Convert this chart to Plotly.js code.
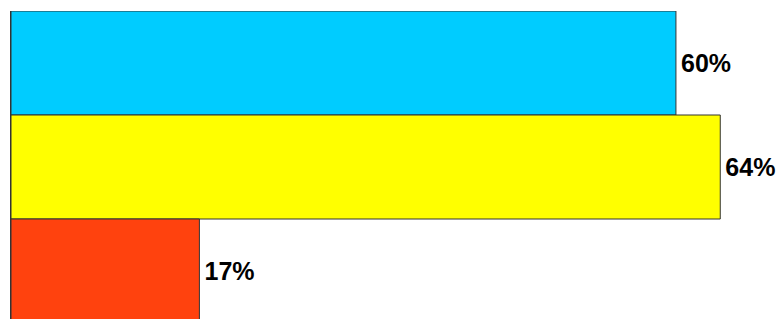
<!DOCTYPE html>
<html>
<head>
<meta charset="utf-8">
<script src="https://cdn.plot.ly/plotly-3.0.1.min.js"></script>
<style>html,body{margin:0;padding:0;background:#fff}</style>
</head>
<body>
<div id="chart" style="width:779px;height:319px"></div>
<script>
var categories = ["A", "B", "C"];
var values = [60, 64, 17];
var labels = ["60%", "64%", "17%"];
var colors = ["#00CCFF", "#FFFF00", "#FF420E"];

var trace = {
  type: "bar",
  orientation: "h",
  y: categories,
  x: values,
  text: labels,
  texttemplate: "\u200A%{text}",
  textposition: "outside",
  cliponaxis: true,
  constraintext: "none",
  textfont: {family: "Liberation Sans, Arial, sans-serif", size: 25, color: "#000", weight: "bold"},
  marker: {color: colors, line: {color: "#333333", width: 1}},
  hoverinfo: "none"
};

var layout = {
  width: 779,
  height: 319,
  margin: {l: 11, r: 0, t: 11, b: 0},
  paper_bgcolor: "#ffffff",
  plot_bgcolor: "#ffffff",
  bargap: 0,
  showlegend: false,
  xaxis: {range: [0, 69.3], showgrid: false, zeroline: false, showticklabels: false, ticks: "", showline: false},
  yaxis: {range: [2.4615, -0.5], showgrid: false, zeroline: false, showticklabels: false, ticks: "", showline: true, linecolor: "#333333", linewidth: 1, type: "category"}
};

Plotly.newPlot("chart", [trace], layout, {displayModeBar: false, staticPlot: true});
</script>
</body>
</html>
